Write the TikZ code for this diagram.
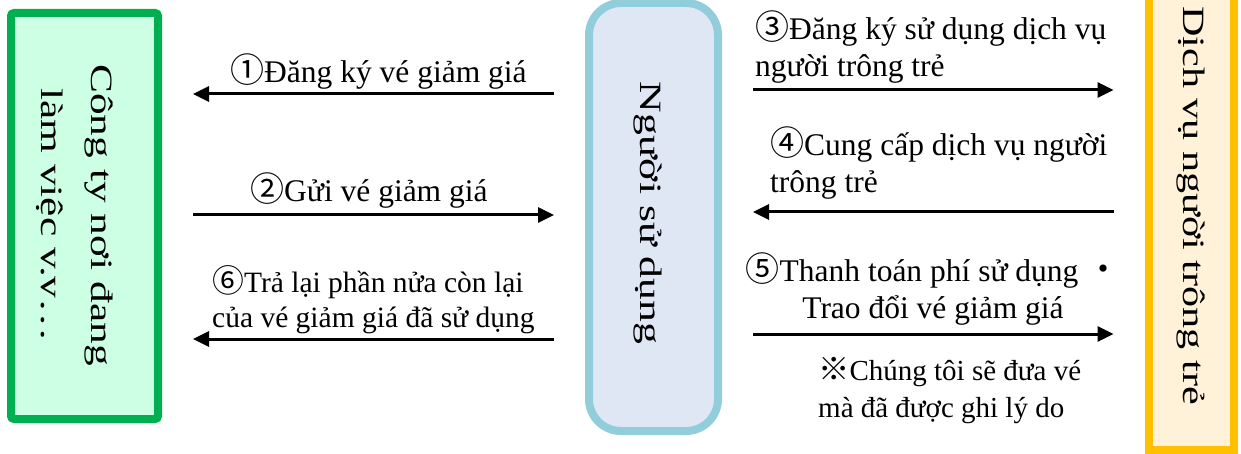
\documentclass[tikz,border=0pt]{standalone}
\usepackage{fontspec}
\setmainfont{Liberation Serif}
\newfontfamily\cjk{Noto Sans CJK JP}
\usepackage{graphicx}
\usetikzlibrary{arrows.meta}

\definecolor{cogreen}{HTML}{00B050}
\definecolor{cofill}{HTML}{CCFFE4}
\definecolor{userblue}{HTML}{92CDDC}
\definecolor{userfill}{HTML}{DFE7F5}
\definecolor{sitorange}{HTML}{FFC000}
\definecolor{sitfill}{HTML}{FFF2D8}

\newcommand{\cnum}[1]{{\cjk\scalebox{1.08}{#1}}}
\newcommand{\vtext}[2]{\scalebox{#1}[1]{#2}}

\begin{document}
\begin{tikzpicture}[x=1pt,y=-1pt,
    flow/.style={line width=3pt,shorten <=31pt,shorten >=31pt,
      -{Triangle[length=16pt,width=15pt]}}]
  \useasboundingbox (0,0) rectangle (1241,454);

  \begin{scope}[every node/.style={draw,line width=8pt,inner sep=0pt}]
    \node[draw=cogreen,fill=cofill,rounded corners=3pt,
      minimum width=147pt,minimum height=406pt] (co) at (84.5,216) {};
    \node[draw=userblue,fill=userfill,rounded corners=32pt,
      minimum width=129pt,minimum height=428pt] (user) at (653.5,217) {};
    \node[draw=sitorange,fill=sitfill,
      minimum width=85pt,minimum height=460pt] (sit) at (1191,220) {};
  \end{scope}

  \begin{scope}[every node/.style={rotate=-90,inner sep=0pt,align=center,
      font=\fontsize{31}{50}\selectfont}]
    \node (cotext) at (75,215) {\vtext{1.4}{Công ty nơi đang}\\\vtext{1.4}{làm việc v.v…}};
    \node (usertext) at (647.5,213) {\vtext{1.41}{Người sử dụng}};
    \node (sittext) at (1190.5,205.5) {\vtext{1.36}{Dịch vụ người trông trẻ}};
  \end{scope}

  % multi-line labels sit on the baseline of their last line
  \begin{scope}[every node/.style={inner sep=0pt,align=left,
      font=\fontsize{31.5}{37}\selectfont}]
    \node[anchor=base west] (l1) at (230,83) {\cnum{①}Đăng ký vé giảm giá};
    \node[anchor=base west] (l2) at (250,202) {\cnum{②}Gửi vé giảm giá};
    \node[anchor=base west] (l3) at (755,77) {\cnum{③}Đăng ký sử dụng dịch vụ\\người trông trẻ};
    \node[anchor=base west] (l4) at (770,193) {\cnum{④}Cung cấp dịch vụ người\\trông trẻ};
    \node[anchor=base,align=center] (l5) at (933,318) {\cnum{⑤}Thanh toán phí sử dụng \cnum{・}\\Trao đổi vé giảm giá};
    \node[anchor=base west,font=\fontsize{29.5}{35}\selectfont] (l6) at (212,327) {\cnum{⑥}Trả lại phần nửa còn lại\\của vé giảm giá đã sử dụng};
    \node[anchor=base west,font=\fontsize{29}{37}\selectfont] (note) at (818,417) {\cnum{※}Chúng tôi sẽ đưa vé\\mà đã được ghi lý do};
  \end{scope}

  \draw[flow] (user.west |- 0,94) -- (co.east |- 0,94);
  \draw[flow] (co.east |- 0,215) -- (user.west |- 0,215);
  \draw[flow] (user.west |- 0,339) -- (co.east |- 0,339);
  \draw[flow] (user.east |- 0,90) -- (sit.west |- 0,90);
  \draw[flow] (sit.west |- 0,212) -- (user.east |- 0,212);
  \draw[flow] (user.east |- 0,334) -- (sit.west |- 0,334);

\end{tikzpicture}
\end{document}
